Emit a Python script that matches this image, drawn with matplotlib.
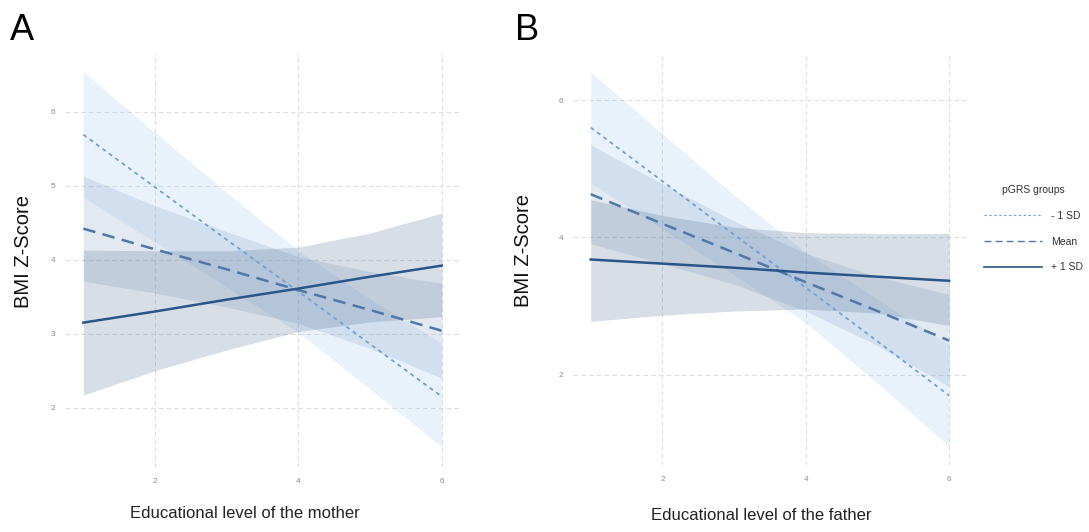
import numpy as np
import matplotlib
matplotlib.use("Agg")
import matplotlib.pyplot as plt
from matplotlib.lines import Line2D

plt.rcParams['font.family'] = ['Liberation Sans', 'DejaVu Sans']

# predicted BMI z-score by educational level
edu = [1, 2, 3, 4, 5, 6]
groups = ['- 1 SD', 'Mean', '+ 1 SD']

# panel A: mother
mother_fit = {
    '- 1 SD': [5.69, 4.98, 4.27, 3.57, 2.86, 2.15],
    'Mean':   [4.42, 4.14, 3.87, 3.59, 3.32, 3.04],
    '+ 1 SD': [3.15, 3.30, 3.46, 3.61, 3.77, 3.92],
}
mother_lo = {
    '- 1 SD': [4.84, 4.24, 3.63, 3.02, 2.25, 1.47],
    'Mean':   [3.71, 3.55, 3.36, 3.14, 2.80, 2.40],
    '+ 1 SD': [2.17, 2.50, 2.78, 3.03, 3.16, 3.23],
}
mother_hi = {
    '- 1 SD': [6.54, 5.72, 4.91, 4.12, 3.47, 2.87],
    'Mean':   [5.13, 4.73, 4.38, 4.04, 3.84, 3.68],
    '+ 1 SD': [4.13, 4.12, 4.12, 4.17, 4.36, 4.63],
}

# panel B: father
father_fit = {
    '- 1 SD': [5.60, 4.82, 4.04, 3.27, 2.49, 1.70],
    'Mean':   [4.63, 4.20, 3.78, 3.35, 2.93, 2.50],
    '+ 1 SD': [3.68, 3.62, 3.56, 3.49, 3.43, 3.37],
}
father_lo = {
    '- 1 SD': [4.79, 4.13, 3.46, 2.76, 1.88, 0.96],
    'Mean':   [3.91, 3.62, 3.32, 2.93, 2.43, 1.83],
    '+ 1 SD': [2.78, 2.87, 2.93, 2.96, 2.90, 2.72],
}
father_hi = {
    '- 1 SD': [6.41, 5.51, 4.62, 3.78, 3.10, 2.44],
    'Mean':   [5.35, 4.78, 4.24, 3.77, 3.43, 3.17],
    '+ 1 SD': [4.55, 4.32, 4.15, 4.07, 4.06, 4.06],
}

xticks = [2, 4, 6]
mother_yticks = [2, 3, 4, 5, 6]
father_yticks = [2, 4, 6]

fills = {'- 1 SD': '#9cc8ef', 'Mean': '#7d9cc0', '+ 1 SD': '#4d6a8f'}
line_col = {'- 1 SD': '#6fa3d6', 'Mean': '#4f78a8', '+ 1 SD': '#2a5589'}
line_style = {'- 1 SD': (0, (2.2, 2.2)), 'Mean': (0, (5, 3)), '+ 1 SD': '-'}
line_w = {'- 1 SD': 1.3, 'Mean': 1.8, '+ 1 SD': 1.8}

W, H = 1089, 532
fig = plt.figure(figsize=(W / 100, H / 100), dpi=100)


def px_axes(left, right, top, bottom):
    return fig.add_axes([left / W, 1 - bottom / H, (right - left) / W, (bottom - top) / H])


def draw_panel(ax, fit, lo, hi, yticks, ylim, xlabel, xlab_pos):
    for g in groups:
        ax.fill_between(edu, lo[g], hi[g], color=fills[g], alpha=0.22, lw=0)
    for g in groups:
        ax.plot(edu, fit[g], color=line_col[g], ls=line_style[g], lw=line_w[g])
    ax.set_xlim(0.75, 6.25)
    ax.set_ylim(*ylim)
    ax.set_xticks(xticks)
    ax.set_yticks(yticks)
    ax.grid(True, color='#dedede', ls=(0, (4, 3)), lw=0.8)
    ax.set_axisbelow(True)
    for s in ax.spines.values():
        s.set_visible(False)
    ax.tick_params(length=0, labelsize=6, labelcolor='#8a8a8a')
    ax.tick_params(axis='x', pad=8)
    ax.tick_params(axis='y', pad=7)
    ax.set_ylabel('BMI Z-Score', fontsize=14.5, color='#111111')
    ax.set_xlabel(xlabel, fontsize=12, color='#222222')
    ax.xaxis.set_label_coords(*xlab_pos)


ax_a = px_axes(65.4, 459.7, 52.5, 466.9)
draw_panel(ax_a, mother_fit, mother_lo, mother_hi, mother_yticks, (1.2, 6.8),
           'Educational level of the mother', (0.455, -0.095))
ax_a.yaxis.set_label_coords(-0.082, 0.52)

ax_b = px_axes(572.8, 967.1, 53.3, 465.0)
draw_panel(ax_b, father_fit, father_lo, father_hi, father_yticks, (0.69, 6.68),
           'Educational level of the father', (0.477, -0.105))
ax_b.yaxis.set_label_coords(-0.101, 0.52)

fig.text(10 / W, 1 - 30 / H, 'A', fontsize=26, va='center', ha='left')
fig.text(515 / W, 1 - 30 / H, 'B', fontsize=26, va='center', ha='left')

handles = [Line2D([], [], color=line_col[g], ls=line_style[g],
                  lw={'- 1 SD': 0.8, 'Mean': 1.0, '+ 1 SD': 1.2}[g]) for g in groups]
leg = ax_b.legend(handles, groups, title='pGRS groups', loc='upper left',
                  bbox_to_anchor=(975 / W, 1 - 176 / H), bbox_transform=fig.transFigure,
                  frameon=False, fontsize=7.5, title_fontsize=7.5, handlelength=5.5,
                  handletextpad=0.9, labelspacing=1.5)
for t in leg.get_texts():
    t.set_color('#333333')
leg.get_title().set_color('#333333')

fig.savefig('out.png', dpi=100, facecolor='white')
